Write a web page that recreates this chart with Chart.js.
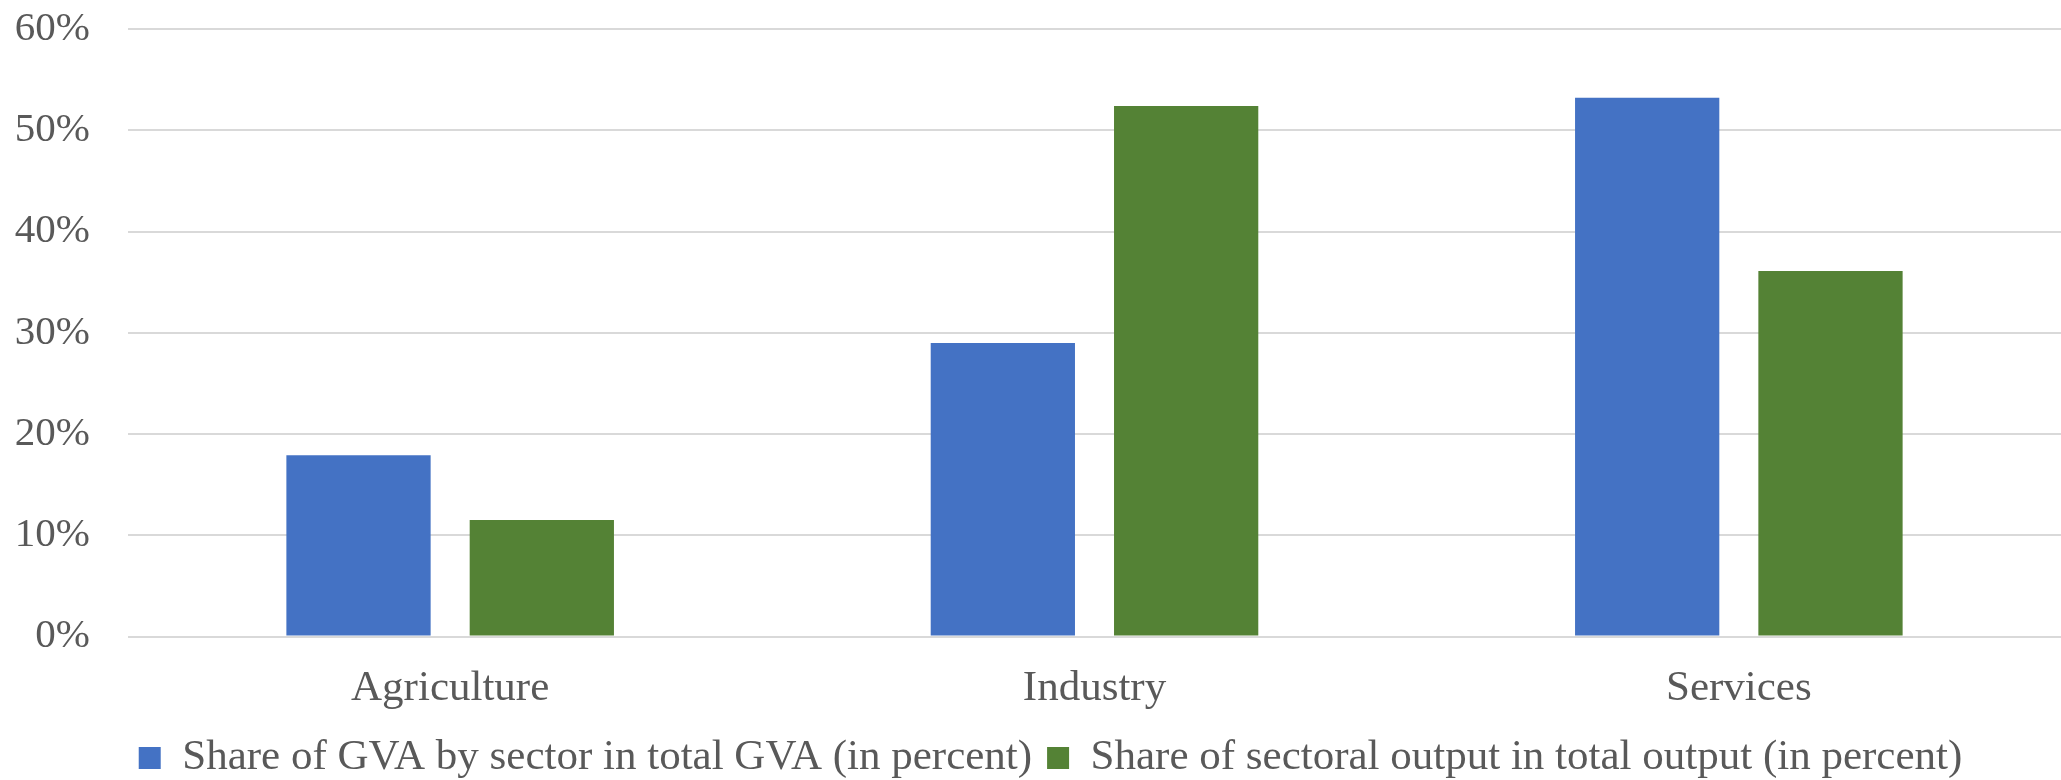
<!DOCTYPE html>
<html>
<head>
<meta charset="utf-8">
<script src="https://cdn.jsdelivr.net/npm/chart.js@4/dist/chart.umd.min.js"></script>
<style>
  html, body { margin: 0; padding: 0; background: #fff; overflow: hidden; }
  #wrap { width: 2061px; height: 780px; }
</style>
</head>
<body>
<div id="wrap"><canvas id="chart" width="2061" height="780"></canvas></div>
<script>
// sectors and the two shares (percent)
const sectors = ['Agriculture', 'Industry', 'Services'];
const gvaShare = [17.9, 29.0, 53.2];
const outputShare = [11.5, 52.4, 36.1];
const seriesNames = [
  'Share of GVA by sector in total GVA (in percent)',
  'Share of sectoral output in total output (in percent)'
];

const textColor = '#595959';
const serif = '"Liberation Serif", "Times New Roman", serif';

// legend in the original sits a bit right of centre
const legendShift = {
  id: 'legendShift',
  afterLayout(chart) { chart.legend.left += 40; }
};

new Chart(document.getElementById('chart').getContext('2d'), {
  type: 'bar',
  data: {
    labels: sectors,
    datasets: [
      { label: seriesNames[0], data: gvaShare, backgroundColor: '#4472C4' },
      { label: seriesNames[1], data: outputShare, backgroundColor: '#548235' }
    ]
  },
  plugins: [legendShift],
  options: {
    responsive: false,
    animation: false,
    devicePixelRatio: 1,
    categoryPercentage: 0.569,
    barPercentage: 0.787,
    layout: { padding: { top: 29, bottom: -9.5, left: 0, right: 0 } },
    plugins: {
      tooltip: { enabled: false },
      legend: {
        position: 'bottom',
        labels: {
          color: textColor,
          font: { family: serif, size: 43 },
          boxWidth: 22,
          boxHeight: 22,
          padding: 15
        }
      }
    },
    scales: {
      x: {
        grid: { display: false },
        border: { display: false },
        ticks: { color: textColor, font: { family: serif, size: 43 }, padding: 18 },
        afterFit: s => { s.height = 85; s.paddingLeft = 0; s.paddingRight = 0; }
      },
      y: {
        min: 0,
        max: 60,
        ticks: {
          stepSize: 10,
          color: textColor,
          font: { family: serif, size: 41 },
          padding: 38,
          callback: v => v + '%'
        },
        grid: { color: '#d9d9d9', lineWidth: 2, drawTicks: false },
        border: { display: false },
        afterFit: s => { s.width = 128; s.paddingTop = 0; s.paddingBottom = 0; }
      }
    }
  }
});
</script>
</body>
</html>
